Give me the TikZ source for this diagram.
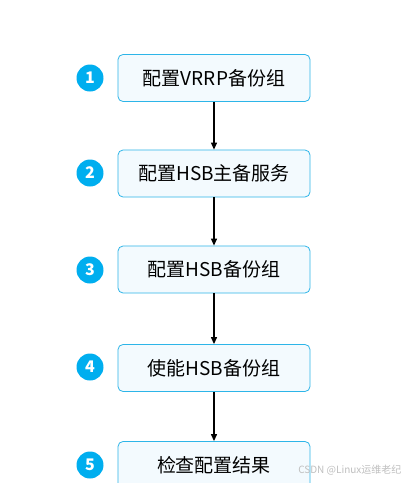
\documentclass[tikz,border=0pt]{standalone}
\usepackage{fontspec}
\setmainfont{Noto Sans CJK SC}
\usetikzlibrary{arrows.meta}
\definecolor{boxfill}{HTML}{F3FAFE}
\definecolor{boxline}{HTML}{2DB5E8}
\definecolor{numfill}{HTML}{00AEEF}
\tikzset{
  stepbox/.style={draw=boxline, fill=boxfill, line width=0.8pt, rounded corners=5pt,
    minimum width=192pt, minimum height=47pt, inner sep=0pt, font=\fontsize{19pt}{21pt}\selectfont},
  numcirc/.style={circle, fill=numfill, minimum size=27pt, inner sep=0pt, text=white,
    font=\fontsize{16pt}{18pt}\selectfont\bfseries},
  flow/.style={-{Triangle[length=7pt,width=6pt]}, line width=1.1pt, black}
}
\begin{document}
\begin{tikzpicture}[x=1pt,y=-1pt]
\clip (0,0) rectangle (409,483);
\fill[white] (0,0) rectangle (409,483);
\node[stepbox] (b1) at (214,78) {配置VRRP备份组};
\node[stepbox] (b2) at (214,173.5) {配置HSB主备服务};
\node[stepbox] (b3) at (214,269.5) {配置HSB备份组};
\node[stepbox] (b4) at (214,368) {使能HSB备份组};
\node[stepbox] (b5) at (214,465) {检查配置结果};
\node[numcirc] (n1) at (90,78) {1};
\node[numcirc] (n2) at (90,173) {2};
\node[numcirc] (n3) at (90,270) {3};
\node[numcirc] (n4) at (90,367) {4};
\node[numcirc] (n5) at (90,465) {5};
\draw[flow] (b1) -- (b2);
\draw[flow] (b2) -- (b3);
\draw[flow] (b3) -- (b4);
\draw[flow] (b4) -- (b5);
\node[text=black!25, font=\fontsize{10pt}{12pt}\selectfont, anchor=east] (wm) at (405,470) {CSDN @Linux运维老纪};
\end{tikzpicture}
\end{document}
